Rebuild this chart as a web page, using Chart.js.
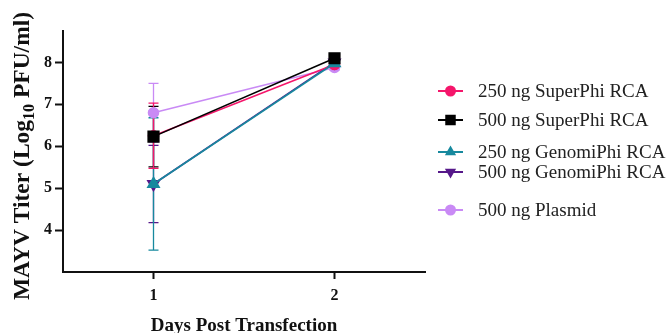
<!DOCTYPE html>
<html>
<head>
<meta charset="utf-8">
<script src="https://cdn.jsdelivr.net/npm/chart.js@4.4.1/dist/chart.umd.min.js"></script>
<style>
  html, body { margin: 0; padding: 0; background: #fff; }
  #wrap { width: 671px; height: 333px; }
</style>
</head>
<body>
<div id="wrap"><canvas id="titerChart"></canvas></div>
<script>
// values (log10 PFU/ml, mean and SD)
const days = [1, 2];
const dayLabels = ['1', '2'];
const yTicks = [4, 5, 6, 7, 8];

const superPhi250 = [6.25, 7.95];
const superPhi250Sd = [0.78, 0.05];
const superPhi500 = [6.23, 8.1];
const superPhi500Sd = [0.72, 0.05];
const genomiPhi250 = [5.1, 7.98];
const genomiPhi250Sd = [1.58, 0.04];
const genomiPhi500 = [5.1, 8.0];
const genomiPhi500Sd = [0.92, 0.04];
const plasmid500 = [6.8, 7.88];
const plasmid500Sd = [0.7, 0.06];

const seriesLabels = ['250 ng SuperPhi RCA', '500 ng SuperPhi RCA', '250 ng GenomiPhi RCA', '500 ng GenomiPhi RCA', '500 ng Plasmid'];

const serif = "'Liberation Serif', 'Times New Roman', serif";

function makeSet(label, values, sd, color, style, radius, order) {
    return {
        label: label,
        data: days.map((d, i) => ({ x: d, y: values[i] })),
        sd: sd,
        borderColor: color,
        backgroundColor: color,
        pointBackgroundColor: color,
        pointBorderColor: color,
        pointStyle: style,
        pointRadius: radius,
        pointRotation: style === 'triangle' && order === 3 ? 180 : 0,
        borderWidth: 1.6,
        order: order
    };
}

const datasets = [
    makeSet(seriesLabels[0], superPhi250, superPhi250Sd, '#f5166b', 'circle', 5, 2),
    makeSet(seriesLabels[1], superPhi500, superPhi500Sd, '#000000', 'rect', 7.5, 0),
    makeSet(seriesLabels[2], genomiPhi250, genomiPhi250Sd, '#17899e', 'triangle', 6.5, 1),
    makeSet(seriesLabels[3], genomiPhi500, genomiPhi500Sd, '#56188a', 'triangle', 6.5, 3),
    makeSet(seriesLabels[4], plasmid500, plasmid500Sd, '#c98af5', 'circle', 5, 4)
];

// mean +/- SD whiskers, drawn under the markers
const errorBars = {
    id: 'errorBars',
    beforeDatasetsDraw(chart) {
        const { ctx, scales: { x, y } } = chart;
        ctx.save();
        ctx.lineWidth = 1.3;
        for (let k = datasets.length - 1; k >= 0; k--) {
            const ds = chart.data.datasets[k];
            ctx.strokeStyle = ds.borderColor;
            ds.data.forEach((p, i) => {
                const px = x.getPixelForValue(p.x);
                const top = y.getPixelForValue(p.y + ds.sd[i]);
                const bot = y.getPixelForValue(p.y - ds.sd[i]);
                ctx.beginPath();
                ctx.moveTo(px, top); ctx.lineTo(px, bot);
                ctx.moveTo(px - 5, top); ctx.lineTo(px + 5, top);
                ctx.moveTo(px - 5, bot); ctx.lineTo(px + 5, bot);
                ctx.stroke();
            });
        }
        ctx.restore();
    }
};

// y title with a real subscript
const yTitle = {
    id: 'yTitle',
    afterDraw(chart) {
        const ctx = chart.ctx;
        const a = 'MAYV Titer (Log', sub = '10', b = ' PFU/ml)';
        ctx.save();
        ctx.translate(29, 156);
        ctx.rotate(-Math.PI / 2);
        ctx.fillStyle = '#111';
        ctx.textBaseline = 'alphabetic';
        ctx.font = 'bold 23.5px ' + serif;
        const wa = ctx.measureText(a).width, wb = ctx.measureText(b).width;
        ctx.font = 'bold 16px ' + serif;
        const ws = ctx.measureText(sub).width;
        let cx = -(wa + ws + wb) / 2;
        ctx.font = 'bold 23.5px ' + serif;
        ctx.fillText(a, cx, 0); cx += wa;
        ctx.font = 'bold 16px ' + serif;
        ctx.fillText(sub, cx, 5); cx += ws;
        ctx.font = 'bold 23.5px ' + serif;
        ctx.fillText(b, cx, 0);
        ctx.restore();
    }
};

// legend: line with marker, rows as in the figure
const legendRows = [91, 120, 152, 172, 210];
const sideLegend = {
    id: 'sideLegend',
    afterDraw(chart) {
        const ctx = chart.ctx;
        ctx.save();
        chart.data.datasets.forEach((ds, i) => {
            const yy = legendRows[i];
            ctx.strokeStyle = ds.borderColor;
            ctx.lineWidth = 2;
            ctx.beginPath();
            ctx.moveTo(438, yy); ctx.lineTo(463, yy);
            ctx.stroke();
            ctx.fillStyle = ds.backgroundColor;
            ctx.strokeStyle = ds.borderColor;
            Chart.helpers.drawPoint(ctx, {
                pointStyle: ds.pointStyle,
                rotation: ds.pointRotation,
                radius: ds.pointStyle === 'rect' ? 6 : 4.5,
                borderWidth: 1
            }, 450.5, yy);
            ctx.fillStyle = '#222';
            ctx.font = '19px ' + serif;
            ctx.textBaseline = 'middle';
            ctx.fillText(ds.label, 478, yy + 1);
        });
        ctx.restore();
    }
};

new Chart(document.getElementById('titerChart'), {
    type: 'line',
    data: { datasets: datasets },
    plugins: [errorBars, yTitle, sideLegend],
    options: {
        responsive: true,
        maintainAspectRatio: false,
        animation: false,
        layout: { padding: { top: 31, right: 246, bottom: 0, left: 0 } },
        plugins: { legend: { display: false }, tooltip: { enabled: false } },
        scales: {
            x: {
                type: 'linear',
                min: 0.5,
                max: 2.5,
                afterBuildTicks: s => { s.ticks = days.map(v => ({ value: v })); },
                afterFit: s => { s.height = 61; },
                ticks: {
                    callback: v => dayLabels[days.indexOf(v)],
                    color: '#111',
                    padding: 7,
                    font: { family: serif, size: 16, weight: 'bold' }
                },
                grid: { drawOnChartArea: false, drawTicks: true, tickLength: 7, tickColor: '#111', tickWidth: 2 },
                border: { color: '#111', width: 2 },
                title: {
                    display: true,
                    text: 'Days Post Transfection',
                    color: '#111',
                    padding: { top: 0, bottom: -4 },
                    font: { family: serif, size: 19, weight: 'bold' }
                }
            },
            y: {
                min: 3,
                max: 8.75,
                afterBuildTicks: s => { s.ticks = yTicks.map(v => ({ value: v })); },
                afterFit: s => { s.width = 63; },
                ticks: {
                    color: '#111',
                    padding: 3,
                    font: { family: serif, size: 16, weight: 'bold' }
                },
                grid: { drawOnChartArea: false, drawTicks: true, tickLength: 8, tickColor: '#111', tickWidth: 2 },
                border: { color: '#111', width: 2 }
            }
        }
    }
});
</script>
</body>
</html>
